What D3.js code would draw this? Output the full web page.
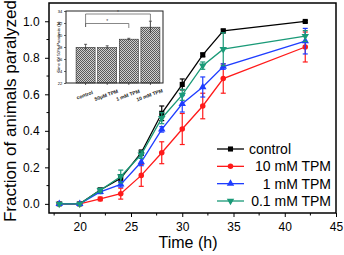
<!DOCTYPE html>
<html>
<head>
<meta charset="utf-8">
<script src="https://cdn.jsdelivr.net/npm/d3@7"></script>
<style>
  body { margin: 0; background: #fff; }
  svg { display: block; font-family: "Liberation Sans", Arial, sans-serif; }
</style>
</head>
<body>
<div id="chart"></div>
<script>
// main chart data
const times = [18, 20, 22, 24, 26, 28, 30, 32, 34, 42];
const seriesNames = ["control", "10 mM TPM", "1 mM TPM", "0.1 mM TPM"];
const control = [0, 0, 0.076, 0.14, 0.28, 0.496, 0.654, 0.816, 0.947, 0.999];
const controlErr = [0, 0, 0.01, 0.02, 0.015, 0.04, 0.03, 0.01, 0.01, 0.005];
const tpm10 = [0, 0, 0.027, 0.056, 0.156, 0.28, 0.41, 0.536, 0.686, 0.859];
const tpm10Err = [0, 0, 0.01, 0.03, 0.06, 0.06, 0.085, 0.07, 0.08, 0.082];
const tpm1 = [0, 0, 0.066, 0.107, 0.229, 0.408, 0.548, 0.64, 0.752, 0.891];
const tpm1Err = [0, 0, 0.01, 0.015, 0.02, 0.015, 0.045, 0.055, 0.015, 0.07];
const tpm01 = [0, 0, 0.075, 0.15, 0.27, 0.469, 0.597, 0.757, 0.847, 0.919];
const tpm01Err = [0, 0, 0.01, 0.035, 0.02, 0.03, 0.03, 0.02, 0.09, 0.03];
const xTicks = [20, 25, 30, 35, 40, 45];
const yTicks = [0, 0.2, 0.4, 0.6, 0.8, 1.0];

// inset data
const insetCats = ["control", "50\u03bcM TPM", "1 mM TPM", "10 mM TPM"];
const insetVals = [27.95, 27.9, 29.3, 31.3];
const insetErr = [0.5, 0.3, 0.15, 1.0];
const insetTicks = [22, 24, 26, 28, 30, 32, 34];

const width = 344, height = 255;
const margin = { top: 3, right: 8, bottom: 42, left: 49 };

const svg = d3.select("#chart").append("svg")
  .attr("width", width)
  .attr("height", height);

const x = d3.scaleLinear().domain([17, 45]).range([margin.left, width - margin.right]);
const y = d3.scaleLinear().domain([-0.05, 1.1]).range([height - margin.bottom, margin.top]);

const series = [
  { name: seriesNames[0], vals: control, err: controlErr, color: "#000000", sym: d3.symbolSquare, size: 26, rot: 0 },
  { name: seriesNames[1], vals: tpm10, err: tpm10Err, color: "#ff1a1a", sym: d3.symbolCircle, size: 24, rot: 0 },
  { name: seriesNames[2], vals: tpm1, err: tpm1Err, color: "#1f3dff", sym: d3.symbolTriangle, size: 24, rot: 0 },
  { name: seriesNames[3], vals: tpm01, err: tpm01Err, color: "#1a9a78", sym: d3.symbolTriangle, size: 24, rot: 180 }
];

// axes
const xAxis = d3.axisBottom(x).tickValues(xTicks).tickFormat(d3.format("d"))
  .tickSize(4).tickPadding(5).tickSizeOuter(0);
const gx = svg.append("g").attr("transform", `translate(0,${y.range()[0]})`).call(xAxis);
gx.selectAll("text").attr("font-size", 12).attr("fill", "#000");
const xMinor = d3.range(17.5, 45, 2.5).filter(v => !xTicks.includes(v));
svg.append("g").selectAll("line").data(xMinor).join("line")
  .attr("x1", d => x(d)).attr("x2", d => x(d))
  .attr("y1", y.range()[0]).attr("y2", y.range()[0] + 2.5)
  .attr("stroke", "#000");

const yAxis = d3.axisLeft(y).tickValues(yTicks).tickFormat(d3.format(".1f")).tickSize(4).tickSizeOuter(0);
const gy = svg.append("g").attr("transform", `translate(${margin.left},0)`).call(yAxis);
gy.selectAll("text").attr("font-size", 12).attr("fill", "#000").attr("dx", "-0.2em");
const yMinor = [0.1, 0.3, 0.5, 0.7, 0.9];
svg.append("g").selectAll("line").data(yMinor).join("line")
  .attr("x1", margin.left - 2.5).attr("x2", margin.left)
  .attr("y1", d => y(d)).attr("y2", d => y(d))
  .attr("stroke", "#000");
svg.selectAll(".domain").remove();

// frame
svg.append("rect")
  .attr("x", margin.left).attr("y", margin.top)
  .attr("width", width - margin.right - margin.left)
  .attr("height", height - margin.bottom - margin.top)
  .attr("fill", "none").attr("stroke", "#000").attr("stroke-width", 1.5);

// titles
svg.append("text")
  .attr("transform", `translate(16,${(margin.top + height - margin.bottom) / 2 + 3}) rotate(-90)`)
  .attr("text-anchor", "middle").attr("font-size", 17)
  .text("Fraction of animals paralyzed");
svg.append("text")
  .attr("x", 188).attr("y", 248)
  .attr("text-anchor", "middle").attr("font-size", 16)
  .text("Time (h)");

// series
const line = d3.line().x(d => x(d[0])).y(d => y(d[1]));
series.forEach(s => {
  const pts = times.map((t, i) => [t, s.vals[i], s.err[i]]);
  const g = svg.append("g");
  g.append("path").datum(pts)
    .attr("d", line).attr("fill", "none")
    .attr("stroke", s.color).attr("stroke-width", 1.3);
  const eb = g.selectAll(".eb").data(pts.filter(d => d[2] > 0)).join("g");
  eb.append("line")
    .attr("x1", d => x(d[0])).attr("x2", d => x(d[0]))
    .attr("y1", d => y(d[1] - d[2])).attr("y2", d => y(d[1] + d[2]))
    .attr("stroke", s.color).attr("stroke-width", 1.2);
  [-1, 1].forEach(sg => {
    eb.append("line")
      .attr("x1", d => x(d[0]) - 2.5).attr("x2", d => x(d[0]) + 2.5)
      .attr("y1", d => y(d[1] + sg * d[2])).attr("y2", d => y(d[1] + sg * d[2]))
      .attr("stroke", s.color).attr("stroke-width", 1.2);
  });
  g.selectAll(".mk").data(pts).join("path")
    .attr("d", d3.symbol().type(s.sym).size(s.size))
    .attr("transform", d => `translate(${x(d[0])},${y(d[1])}) rotate(${s.rot})`)
    .attr("fill", s.color);
});

// legend
const legY = d3.scalePoint().domain(seriesNames).range([149, 201]);
const leg = svg.append("g");
series.forEach((s, i) => {
  const ly = legY(s.name);
  leg.append("line").attr("x1", 217).attr("x2", 244).attr("y1", ly).attr("y2", ly)
    .attr("stroke", s.color).attr("stroke-width", 1.3);
  leg.append("path")
    .attr("d", d3.symbol().type(s.sym).size(s.size))
    .attr("transform", `translate(230.5,${ly}) rotate(${s.rot})`)
    .attr("fill", s.color);
  leg.append("text")
    .attr("x", i === 0 ? 249 : 331).attr("y", ly + 5)
    .attr("text-anchor", i === 0 ? "start" : "end")
    .attr("font-size", 14)
    .text(s.name);
});

// inset bar chart
const ix0 = 66, ix1 = 163, iy0 = 11, iy1 = 83;
const ins = svg.append("g");
ins.append("rect").attr("x", ix0).attr("y", iy0).attr("width", ix1 - ix0).attr("height", iy1 - iy0)
  .attr("fill", "#fff");

const defs = svg.append("defs");
const pat = defs.append("pattern").attr("id", "hatch")
  .attr("patternUnits", "userSpaceOnUse").attr("width", 2).attr("height", 2);
pat.append("rect").attr("width", 2).attr("height", 2).attr("fill", "#cfcfcf");
pat.append("rect").attr("width", 1).attr("height", 1).attr("fill", "#5a5a5a");
pat.append("rect").attr("x", 1).attr("y", 1).attr("width", 1).attr("height", 1).attr("fill", "#5a5a5a");

const bx = d3.scaleBand().domain(insetCats).range([75, 161]).paddingInner(0.12).paddingOuter(0.05);
const by = d3.scaleLinear().domain([22, 34]).range([iy1, iy0]);

ins.selectAll(".bar").data(insetCats).join("rect")
  .attr("x", d => bx(d)).attr("width", bx.bandwidth())
  .attr("y", (d, i) => by(insetVals[i])).attr("height", (d, i) => by(22) - by(insetVals[i]))
  .attr("fill", "url(#hatch)").attr("stroke", "#333").attr("stroke-width", 0.6);

insetCats.forEach((c, i) => {
  const cx = bx(c) + bx.bandwidth() / 2;
  ins.append("line").attr("x1", cx).attr("x2", cx)
    .attr("y1", by(insetVals[i] - insetErr[i])).attr("y2", by(insetVals[i] + insetErr[i]))
    .attr("stroke", "#222").attr("stroke-width", 0.7);
  ins.append("line").attr("x1", cx - 1.5).attr("x2", cx + 1.5)
    .attr("y1", by(insetVals[i] + insetErr[i])).attr("y2", by(insetVals[i] + insetErr[i]))
    .attr("stroke", "#222").attr("stroke-width", 0.7);
});

const iyAxis = d3.axisLeft(by).tickValues(insetTicks).tickSize(2).tickSizeOuter(0);
const giy = ins.append("g").attr("transform", `translate(${ix0},0)`).call(iyAxis);
giy.selectAll("text").attr("font-size", 4).attr("fill", "#000").attr("dx", "0.3em");
giy.selectAll("line").attr("stroke-width", 0.6);
const ixAxis = d3.axisBottom(bx).tickSize(2).tickSizeOuter(0);
const gix = ins.append("g").attr("transform", `translate(0,${iy1})`).call(ixAxis);
gix.selectAll("line").attr("stroke-width", 0.6);
gix.selectAll("text").attr("font-size", 5).attr("font-weight", "bold").attr("fill", "#222")
  .attr("text-anchor", "middle").attr("dy", 0)
  .attr("transform", "translate(-2,9) rotate(-20)");
ins.selectAll(".domain").remove();
ins.append("rect").attr("x", ix0).attr("y", iy0).attr("width", ix1 - ix0).attr("height", iy1 - iy0)
  .attr("fill", "none").attr("stroke", "#222").attr("stroke-width", 1);

ins.append("text")
  .attr("transform", `translate(59.5,${(iy0 + iy1) / 2}) rotate(-90)`)
  .attr("text-anchor", "middle").attr("font-size", 4.4)
  .text("Time Of 50% Paralysis (h)");

// significance brackets
const cc = i => bx(insetCats[i]) + bx.bandwidth() / 2;
const brackets = [[0, 3, 14, 27, 27], [0, 2, 23.5, 27, 28]];
brackets.forEach(b => {
  ins.append("path")
    .attr("d", `M${cc(b[0])},${b[3]}V${b[2]}H${cc(b[1])}V${b[4]}`)
    .attr("fill", "none").attr("stroke", "#555").attr("stroke-width", 0.7);
  ins.append("text").attr("x", (cc(b[0]) + cc(b[1])) / 2).attr("y", b[2] - 0.5)
    .attr("text-anchor", "middle").attr("font-size", 5).attr("fill", "#444").text("*");
});
</script>
</body>
</html>
